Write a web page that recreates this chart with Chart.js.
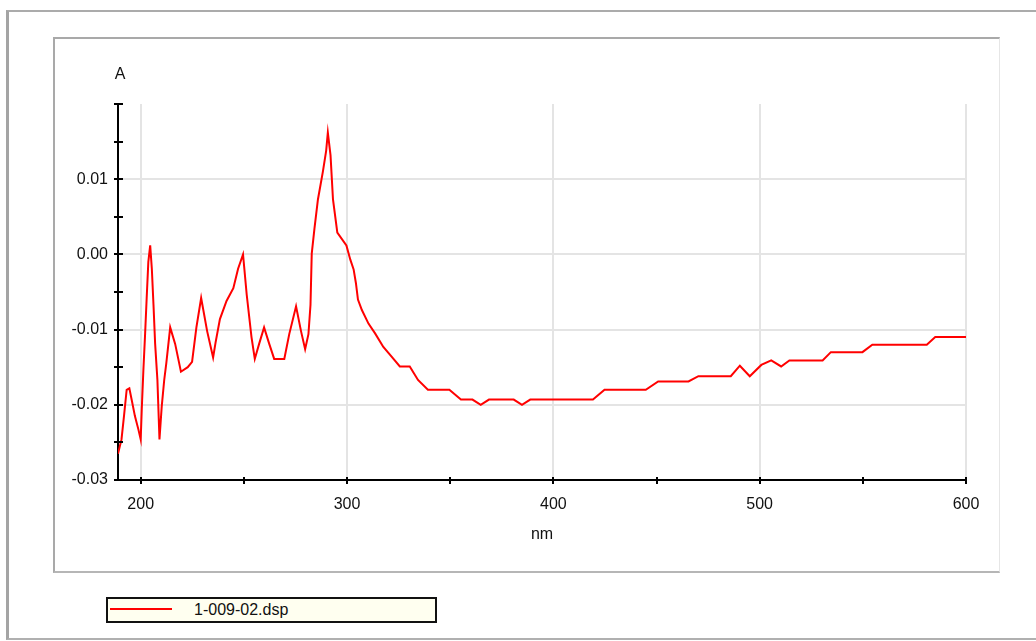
<!DOCTYPE html>
<html>
<head>
<meta charset="utf-8">
<script src="https://cdn.jsdelivr.net/npm/chart.js@4.4.0/dist/chart.umd.min.js"></script>
<style>
  html, body { margin: 0; padding: 0; background: #fff; overflow: hidden; }
  body { width: 1036px; height: 641px; position: relative; font-family: "Liberation Sans", Arial, sans-serif; }
  .outer-frame {
    position: absolute; left: 6px; top: 10px; width: 1040px; height: 626px;
    border-left: 3px solid #a4a4a4; border-top: 2px solid #ababab; border-bottom: 2px solid #b0b0b0;
  }
  .plot-panel {
    position: absolute; left: 53px; top: 37px; width: 944px; height: 532px;
    border-top: 2px solid #a9a9a9; border-left: 2px solid #a9a9a9;
    border-right: 1px solid #e6e6e6; border-bottom: 2px solid #b6b6b6; background: #fff;
  }
  #chart { position: absolute; left: 0; top: 0; z-index: 2; }
  .legend {
    position: absolute; left: 106px; top: 597px; width: 327px; height: 22px;
    border: 2px solid #111; background: #fffff0; z-index: 3;
  }
  .legend__line { position: absolute; left: 2px; top: 9px; width: 62px; height: 2px; background: #ff0000; }
  .legend__text { position: absolute; left: 86px; top: 1px; font-size: 16px; line-height: 20px; color: #111; }
</style>
</head>
<body>
<div class="outer-frame"></div>
<div class="plot-panel"></div>
<canvas id="chart" width="1036" height="641"></canvas>
<div class="legend"><div class="legend__line"></div><div class="legend__text" id="legendText"></div></div>
<script>
// spectrum
const seriesName = "1-009-02.dsp";
const wavelengths = [
  189, 190.7, 191.9, 193.2, 194.5, 195.6, 197.2, 198.9, 200, 200.5, 201.3, 202.1, 202.9, 203.7, 204.6,
  205.4, 206.2, 207, 208.1, 209.1, 210.2, 211.4, 212.4, 214.3, 216.7, 219.5, 222.8, 224.9, 227, 229.3,
  232.2, 235.1, 236.3, 238.4, 241.6, 244.9, 247.2, 249.6, 251.4, 253.7, 255.3, 257.4, 259.8, 262.3, 264.7,
  269.6, 272, 275.3, 277.7, 279.7, 281.3, 282.3, 282.9, 284.2, 285.9, 288.3, 289.9, 290.7, 292, 293.2,
  295.3, 299.7, 301.6, 303.2, 304.3, 305.3, 307.2, 310.4, 313.6, 317.6, 321.6, 325.6, 330.4, 334.4, 339.2,
  349.6, 355.2, 360.8, 364.8, 368.8, 380.8, 384.8, 388.8, 419.2, 424.8, 444.8, 450.8, 465.5, 470.3, 486,
  490.4, 495.2, 500.8, 505.6, 510.4, 514.4, 530.5, 534.5, 549.8, 554.6, 581, 585.1, 600
];
const absorbance = [
  -0.0265, -0.0246, -0.0215, -0.018, -0.0178, -0.0193, -0.0215, -0.0233, -0.0246, -0.0207, -0.0154, -0.0108, -0.0058, -0.001, 0.0012,
  -0.0019, -0.0067, -0.0119, -0.0167, -0.0246, -0.0202, -0.0167, -0.0145, -0.0097, -0.0119, -0.0156, -0.015, -0.0143, -0.0097, -0.0058,
  -0.0102, -0.0137, -0.0117, -0.0086, -0.0062, -0.0045, -0.0019, 0, -0.0054, -0.011, -0.0139, -0.0119, -0.0097, -0.0119, -0.0139,
  -0.0139, -0.0106, -0.0069, -0.0102, -0.0126, -0.0106, -0.0067, 0.0001, 0.0034, 0.0073, 0.011, 0.0138, 0.0162, 0.0132, 0.0073,
  0.0029, 0.0012, -0.0007, -0.002, -0.0038, -0.006, -0.0074, -0.0092, -0.0105, -0.0123, -0.0136, -0.0149, -0.0149, -0.0167, -0.018,
  -0.018, -0.0193, -0.0193, -0.02, -0.0193, -0.0193, -0.02, -0.0193, -0.0193, -0.018, -0.018, -0.0169, -0.0169, -0.0162, -0.0162,
  -0.0148, -0.0162, -0.0147, -0.0141, -0.0149, -0.0141, -0.0141, -0.013, -0.013, -0.012, -0.012, -0.011, -0.011
];

const xTicks = [200, 250, 300, 350, 400, 450, 500, 550, 600];
const xTickLabels = ["200", "", "300", "", "400", "", "500", "", "600"];
const yTicks = [-0.03, -0.025, -0.02, -0.015, -0.01, -0.005, 0, 0.005, 0.01, 0.015, 0.02];
const yTickLabels = ["-0.03", "", "-0.02", "", "-0.01", "", "0.00", "", "0.01", "", ""];

const fontFamily = '"Liberation Sans", Arial, sans-serif';
const gridColor = "#e4e4e4";

document.querySelector("#legendText").textContent = seriesName;

// tick marks that cross the axis line, plus the "A" unit label
const crossTicks = {
  id: "crossTicks",
  afterDraw(chart) {
    const { ctx, chartArea, scales } = chart;
    ctx.save();
    ctx.strokeStyle = "#000";
    ctx.lineWidth = 2;
    scales.y.ticks.forEach((t) => {
      const py = Math.round(scales.y.getPixelForValue(t.value));
      ctx.beginPath();
      ctx.moveTo(chartArea.left - 4, py);
      ctx.lineTo(chartArea.left + 5, py);
      ctx.stroke();
    });
    scales.x.ticks.forEach((t) => {
      const px = Math.round(scales.x.getPixelForValue(t.value));
      ctx.beginPath();
      ctx.moveTo(px, chartArea.bottom - 3);
      ctx.lineTo(px, chartArea.bottom + 4);
      ctx.stroke();
    });
    ctx.fillStyle = "#111";
    ctx.font = "16px " + fontFamily;
    ctx.textAlign = "center";
    ctx.textBaseline = "middle";
    ctx.fillText("A", chartArea.left + 2, 75);
    ctx.restore();
  },
};

const chart = new Chart(document.querySelector("#chart"), {
  type: "line",
  data: {
    datasets: [
      {
        label: seriesName,
        data: wavelengths.map((w, i) => ({ x: w, y: absorbance[i] })),
        borderColor: "#ff0000",
        borderWidth: 2,
        pointRadius: 0,
        tension: 0,
        fill: false,
      },
    ],
  },
  options: {
    responsive: false,
    animation: false,
    layout: { padding: { left: 0, right: 70, top: 104, bottom: 0 } },
    plugins: { legend: { display: false }, tooltip: { enabled: false } },
    scales: {
      x: {
        type: "linear",
        min: 189,
        max: 600,
        afterFit: (scale) => { scale.height = 161; },
        afterBuildTicks: (scale) => { scale.ticks = xTicks.map((v) => ({ value: v })); },
        ticks: {
          autoSkip: false,
          maxRotation: 0,
          padding: 15,
          color: "#111",
          font: { family: fontFamily, size: 16 },
          callback: (value, index) => xTickLabels[index],
        },
        grid: {
          drawTicks: false,
          lineWidth: 2,
          color: (c) => (c.tick && xTickLabels[c.index] ? gridColor : "rgba(0,0,0,0)"),
        },
        border: { color: "#000", width: 2 },
        title: {
          display: true,
          text: "nm",
          color: "#111",
          font: { family: fontFamily, size: 16 },
          padding: { top: 0, bottom: 97 },
        },
      },
      y: {
        type: "linear",
        min: -0.03,
        max: 0.02,
        afterFit: (scale) => { scale.width = 118; },
        afterBuildTicks: (scale) => { scale.ticks = yTicks.map((v) => ({ value: v })); },
        ticks: {
          autoSkip: false,
          padding: 10,
          color: "#111",
          font: { family: fontFamily, size: 16 },
          callback: (value, index) => yTickLabels[index],
        },
        grid: {
          drawTicks: false,
          lineWidth: 2,
          color: (c) => (c.tick && yTickLabels[c.index] && c.index > 0 ? gridColor : "rgba(0,0,0,0)"),
        },
        border: { color: "#000", width: 2 },
      },
    },
  },
  plugins: [crossTicks],
});
</script>
</body>
</html>
